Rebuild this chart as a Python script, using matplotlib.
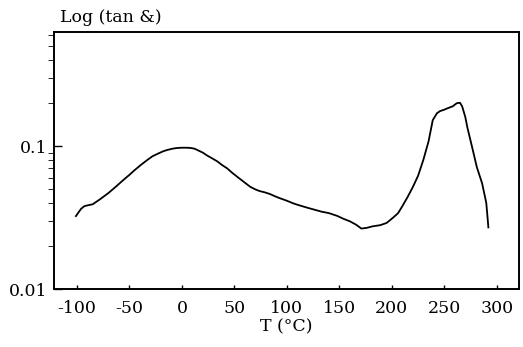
import matplotlib
matplotlib.use('Agg')
import matplotlib.pyplot as plt
from matplotlib.ticker import LogLocator, NullFormatter, FixedLocator, FixedFormatter

# tan delta vs temperature
temp = [-101, -99, -96, -93, -90, -85, -78, -70, -63, -56, -50, -45, -39, -33,
        -28, -23, -18, -14, -9, -5, 0, 4, 8, 12, 16, 20, 24, 29, 34, 38, 43,
        48, 54, 60, 65, 70, 74, 79, 84, 88, 93, 100, 106, 112, 120, 127, 133,
        140, 148, 154, 160, 166, 171, 176, 182, 189, 195, 201, 206, 210, 215,
        220, 225, 230, 235, 239, 243, 246, 250, 253, 258, 262, 265, 267, 270,
        272, 277, 281, 286, 288, 290, 291, 292]
tan_d = [0.0324, 0.0340, 0.0365, 0.0380, 0.0385, 0.0392, 0.0425, 0.0470,
         0.0520, 0.0578, 0.0630, 0.0680, 0.0740, 0.0800, 0.0850, 0.0885,
         0.0920, 0.0940, 0.0960, 0.0970, 0.0975, 0.0975, 0.0972, 0.0960,
         0.0930, 0.0900, 0.0860, 0.0820, 0.0780, 0.0740, 0.0700, 0.0650,
         0.0600, 0.0555, 0.0520, 0.0498, 0.0485, 0.0475, 0.0462, 0.0448,
         0.0433, 0.0415, 0.0398, 0.0385, 0.0370, 0.0358, 0.0348, 0.0340,
         0.0325, 0.0310, 0.0298, 0.0282, 0.0265, 0.0268, 0.0275, 0.0280,
         0.0290, 0.0315, 0.0340, 0.0380, 0.0440, 0.0517, 0.0620, 0.0800,
         0.1080, 0.1520, 0.1700, 0.1760, 0.1800, 0.1840, 0.1900, 0.2000,
         0.2010, 0.1900, 0.1600, 0.1350, 0.0950, 0.0713, 0.0550, 0.0470,
         0.0400, 0.0330, 0.0270]

x_ticks = [-100, -50, 0, 50, 100, 150, 200, 250, 300]
y_ticks = [0.01, 0.1]
y_labels = ['0.01', '0.1']

plt.rcParams['font.family'] = ['DejaVu Serif']

fig = plt.figure(figsize=(5.23, 3.47), dpi=100)
ax = fig.add_axes([0.103, 0.167, 0.889, 0.741])

ax.plot(temp, tan_d, color='black', linewidth=1.3)

ax.set_yscale('log')
ax.set_xlim(-122, 321)
ax.set_ylim(0.01, 0.63)

ax.xaxis.set_major_locator(FixedLocator(x_ticks))
ax.set_xticklabels([str(t) for t in x_ticks])
ax.yaxis.set_major_locator(FixedLocator(y_ticks))
ax.yaxis.set_major_formatter(FixedFormatter(y_labels))
ax.yaxis.set_minor_locator(LogLocator(base=10, subs=range(2, 10)))
ax.yaxis.set_minor_formatter(NullFormatter())

ax.tick_params(axis='both', direction='in', labelsize=12.5, width=1, colors='black')
ax.tick_params(axis='x', length=3, pad=8)
ax.tick_params(axis='y', which='major', length=6, pad=5)
ax.tick_params(axis='y', which='minor', length=4)

for s in ax.spines.values():
    s.set_linewidth(1.4)

ax.set_xlabel('T (°C)', fontsize=12.5, labelpad=1)
fig.text(60 / 523, 1 - 22 / 347, 'Log (tan &)', fontsize=12.5, ha='left', va='baseline')

fig.savefig('out.png', dpi=100)
